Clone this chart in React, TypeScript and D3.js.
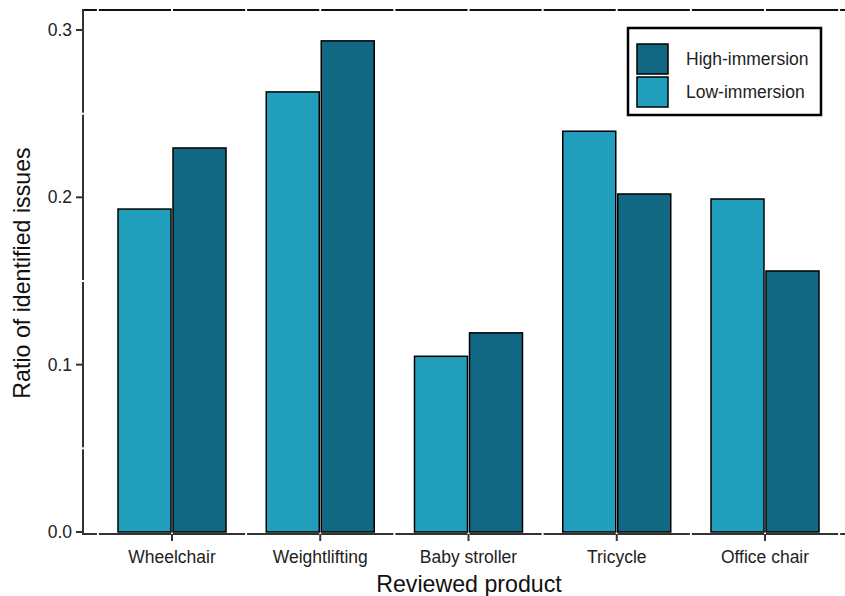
import React from "react";
import * as d3 from "d3";

const categories = ["Wheelchair", "Weightlifting", "Baby stroller", "Tricycle", "Office chair"];
const lowImmersion = [0.193, 0.263, 0.105, 0.2395, 0.199];
const highImmersion = [0.2295, 0.2935, 0.119, 0.202, 0.156];
const yTicks = [0, 0.1, 0.2, 0.3];
const yMinor = [0.05, 0.15, 0.25];
const seriesNames = ["High-immersion", "Low-immersion"];
const COLOR_LOW = "#219ebc";
const COLOR_HIGH = "#126782";

export default function App() {
  const W = 845, H = 596;
  const panelLeft = 83, panelTop = 10, panelBottom = 534;
  const x = d3.scaleLinear().domain([0, 4]).range([172, 765]);
  const step = x(1) - x(0);
  const y = d3.scaleLinear().domain([0, 0.3]).range([532, 30]);
  const barW = 53;
  const gap = 1;
  const font = "Liberation Sans, Arial, sans-serif";
  const axisColor = "#333";

  const vGaps = d3.range(-1, 10).map((k) => x(0) + (k * step) / 2).filter((v) => v > panelLeft + 4 && v < W + 2);

  return (
    <svg width={W} height={H} style={{ position: "absolute", left: 0, top: 0 }}>
      <rect width={W} height={H} fill="white" />
      {categories.map((c, i) => (
        <g key={c}>
          <rect x={x(i) - gap - barW} y={y(lowImmersion[i])} width={barW} height={y(0) - y(lowImmersion[i])}
            fill={COLOR_LOW} stroke="#000" strokeWidth={1.5} />
          <rect x={x(i) + gap} y={y(highImmersion[i])} width={barW} height={y(0) - y(highImmersion[i])}
            fill={COLOR_HIGH} stroke="#000" strokeWidth={1.5} />
        </g>
      ))}
      {/* axis lines */}
      <line x1={panelLeft} x2={W} y1={panelTop} y2={panelTop} stroke="#111" strokeWidth={2} />
      <line x1={panelLeft} x2={panelLeft} y1={panelTop - 1} y2={panelBottom + 1} stroke={axisColor} strokeWidth={2} />
      <line x1={panelLeft - 1} x2={W} y1={panelBottom} y2={panelBottom} stroke={axisColor} strokeWidth={2} />
      {/* white gaps */}
      {vGaps.map((v, i) => (
        <g key={"vg" + i}>
          <line x1={v} x2={v} y1={panelTop - 3} y2={panelTop + 3} stroke="white" strokeWidth={2} />
          <line x1={v} x2={v} y1={panelBottom - 1} y2={panelBottom + 3} stroke="white" strokeWidth={2} />
        </g>
      ))}
      {yMinor.map((t) => (
        <line key={"hg" + t} x1={panelLeft - 3} x2={panelLeft + 3} y1={y(t)} y2={y(t)} stroke="white" strokeWidth={2} />
      ))}
      {/* y ticks */}
      {yTicks.map((t) => (
        <g key={"yt" + t}>
          <line x1={panelLeft - 7} x2={panelLeft} y1={y(t)} y2={y(t)} stroke={axisColor} strokeWidth={2} />
          <text x={panelLeft - 11} y={y(t)} dy="0.35em" textAnchor="end" fontFamily={font} fontSize={17.5} fill="#222">
            {d3.format(".1f")(t)}
          </text>
        </g>
      ))}
      {/* x ticks */}
      {categories.map((c, i) => (
        <g key={"xt" + c}>
          <line x1={x(i)} x2={x(i)} y1={panelBottom} y2={panelBottom + 7} stroke={axisColor} strokeWidth={2} />
          <text x={x(i)} y={563} textAnchor="middle" fontFamily={font} fontSize={17.5} fill="#222">{c}</text>
        </g>
      ))}
      <text x={469} y={592} textAnchor="middle" fontFamily={font} fontSize={23.2} fill="#111">Reviewed product</text>
      <text transform={`translate(30,273) rotate(-90)`} textAnchor="middle" fontFamily={font} fontSize={23.2} fill="#111">
        Ratio of identified issues
      </text>
      {/* legend */}
      <rect x={628} y={28} width={193} height={87} fill="white" stroke="#000" strokeWidth={2.5} />
      {seriesNames.map((s, i) => (
        <g key={s}>
          <rect x={637} y={44 + i * 33} width={31} height={30} fill={i === 0 ? COLOR_HIGH : COLOR_LOW} stroke="#000" strokeWidth={1.5} />
          <text x={686} y={59 + i * 33} dy="0.35em" fontFamily={font} fontSize={17.5} fill="#222">{s}</text>
        </g>
      ))}
    </svg>
  );
}
